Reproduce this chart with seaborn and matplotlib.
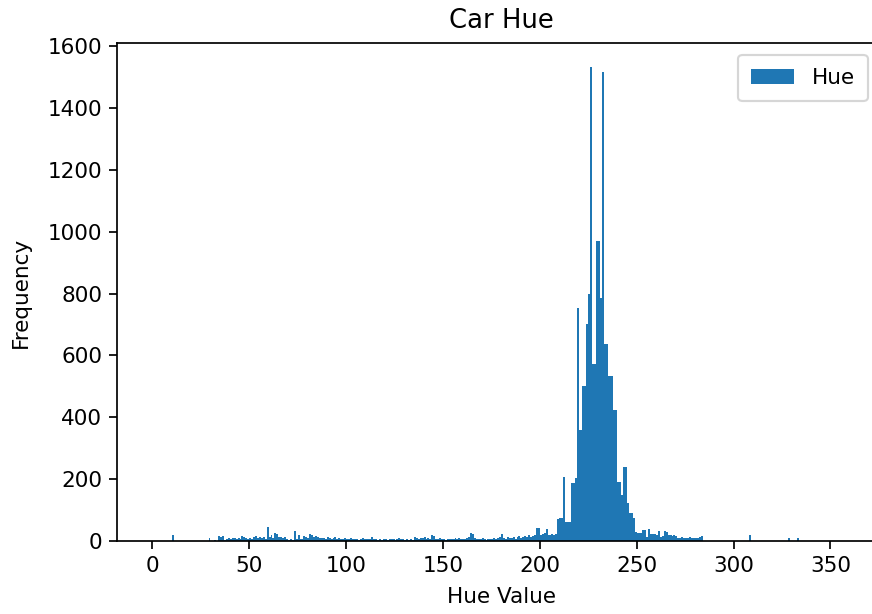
import numpy as np
import pandas as pd
import matplotlib
matplotlib.use("Agg")
import matplotlib.pyplot as plt
import seaborn as sns

# ---- data: frequency per 1-degree hue bin (bin left edges 0..359) ----
bin_starts = list(range(0, 360))

counts_000_029 = [0, 0, 0, 0, 0, 0, 0, 0, 0, 0,
                  18, 0, 0, 0, 0, 0, 0, 0, 0, 0,
                  0, 0, 0, 0, 0, 0, 0, 0, 0, 9]
counts_030_099 = [0, 0, 3, 0, 16, 14, 16, 4, 8, 10,
                  6, 9, 11, 7, 10, 8, 15, 12, 9, 7,
                  11, 8, 13, 16, 10, 12, 9, 14, 8, 46,
                  12, 19, 10, 25, 22, 14, 13, 10, 12, 6,
                  4, 5, 3, 32, 6, 18, 5, 7, 16, 14,
                  10, 24, 20, 14, 17, 12, 9, 11, 10, 8,
                  13, 9, 7, 10, 12, 8, 9, 6, 7, 10]
counts_100_169 = [8, 6, 9, 5, 7, 8, 4, 6, 9, 7,
                  5, 8, 6, 14, 7, 5, 4, 6, 3, 5,
                  7, 4, 6, 5, 8, 3, 6, 9, 5, 7,
                  4, 6, 3, 5, 4, 12, 10, 8, 11, 9,
                  13, 7, 10, 6, 18, 17, 8, 6, 9, 5,
                  7, 4, 6, 8, 5, 7, 9, 6, 10, 8,
                  5, 7, 9, 12, 25, 24, 10, 6, 8, 5]
counts_170_208 = [9, 7, 4, 8, 6, 5, 10, 7, 9, 12,
                  24, 10, 8, 13, 9, 11, 14, 8, 12, 15,
                  10, 13, 16, 12, 18, 14, 15, 20, 43, 42,
                  20, 22, 25, 38, 20, 18, 22, 19, 24]
counts_209_256 = [70, 73, 73, 207, 60, 60, 62, 186, 186, 203,
                  755, 358, 358, 500, 500, 702, 798, 1533, 571, 571,
                  971, 971, 787, 1517, 636, 636, 533, 533, 533, 423,
                  423, 192, 192, 149, 238, 238, 122, 90, 90, 73,
                  30, 25, 25, 25, 35, 35, 14, 38]
counts_257_359 = [24, 22, 24, 20, 32, 14, 16, 32, 30, 18,
                  18, 16, 18, 15, 11, 10, 12, 11, 10, 11,
                  12, 10, 11, 11, 10, 12, 15, 0, 0, 0,
                  0, 0, 0, 0, 0, 0, 0, 0, 0, 0,
                  0, 0, 0, 0, 0, 0, 0, 0, 0, 0,
                  0, 18, 0, 0, 0, 0, 0, 0, 0, 0,
                  0, 0, 0, 0, 0, 0, 0, 0, 0, 0,
                  0, 9, 0, 0, 0, 0, 11, 0, 0, 0,
                  0, 0, 0, 0, 0, 0, 0, 0, 0, 0,
                  0, 0, 0, 0, 0, 0, 0, 0, 0, 0,
                  0, 0, 0]

counts = (counts_000_029 + counts_030_099 + counts_100_169 +
          counts_170_208 + counts_209_256 + counts_257_359)

title = "Car Hue"
x_label = "Hue Value"
y_label = "Frequency"
legend_label = "Hue"

df = pd.DataFrame({"hue": np.array(bin_starts) + 0.5, "count": counts})

DPI = 155
fig = plt.figure(figsize=(873 / DPI, 614 / DPI), dpi=DPI)
ax = fig.add_axes([117.5 / 873, 1 - 541 / 614, (884.6 - 117.5) / 873, (541 - 43.3) / 614])

sns.histplot(data=df, x="hue", weights="count", bins=360, binrange=(0, 360),
             color="#1f77b4", alpha=1, edgecolor="none", linewidth=0,
             label=legend_label, ax=ax)

ax.set_xlim(-18, 378)
ax.set_ylim(0, 1533 * 1.05)
ax.set_xticks([0, 50, 100, 150, 200, 250, 300, 350])
ax.set_yticks([0, 200, 400, 600, 800, 1000, 1200, 1400, 1600])
ax.tick_params(labelsize=10)
ax.set_title(title, fontsize=12, pad=7)
ax.set_xlabel(x_label, fontsize=10, labelpad=5)
ax.set_ylabel(y_label, fontsize=10, labelpad=8)
ax.legend(loc="upper right", fontsize=10, bbox_to_anchor=(0.978, 0.9765),
          borderaxespad=0, borderpad=0.6)

fig.savefig("out.png", dpi=DPI)
